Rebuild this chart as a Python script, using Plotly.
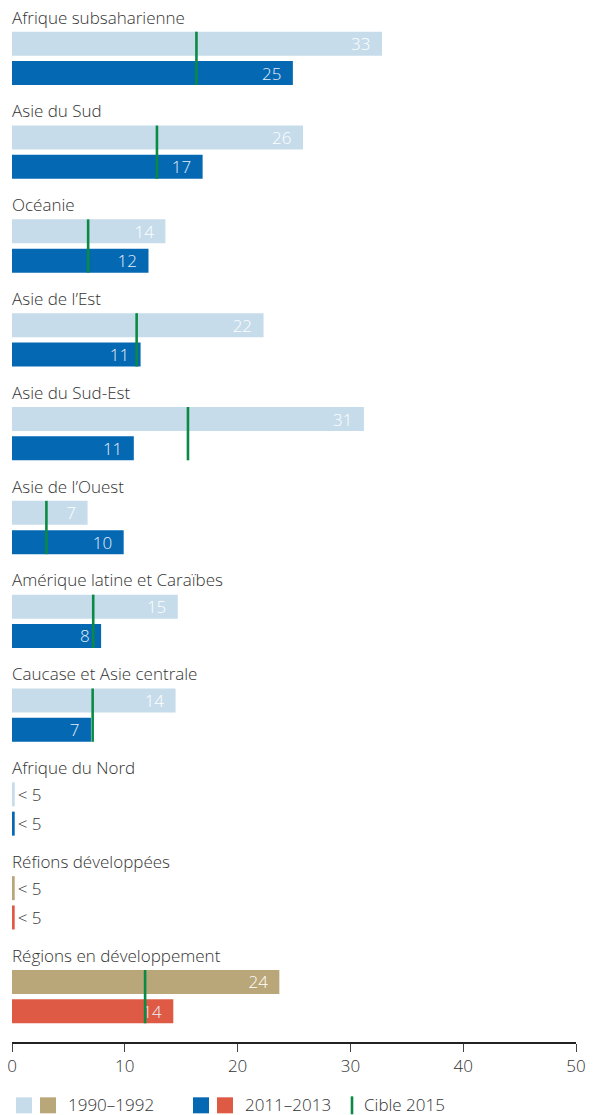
import plotly.graph_objects as go

regions = ["Afrique subsaharienne", "Asie du Sud", "Océanie", "Asie de l’Est",
           "Asie du Sud-Est", "Asie de l’Ouest", "Amérique latine et Caraïbes",
           "Caucase et Asie centrale", "Afrique du Nord", "Réfions développées",
           "Régions en développement"]
v1990 = [32.8, 25.8, 13.6, 22.3, 31.2, 6.7, 14.7, 14.5, 0.24, 0.24, 23.7]
v2011 = [24.9, 16.9, 12.1, 11.4, 10.8, 9.9, 7.9, 7.0, 0.24, 0.24, 14.3]
lab1990 = ["33", "26", "14", "22", "31", "7", "15", "14", "< 5", "< 5", "24"]
lab2011 = ["25", "17", "12", "11", "11", "10", "8", "7", "< 5", "< 5", "14"]
target = [16.35, 12.85, 6.75, 11.05, 15.6, 3.05, 7.2, 7.15, None, None, 11.8]
x_ticks = [0, 10, 20, 30, 40, 50]

FONT = "Open Sans"
FW = 300
FS = 17
W, H = 597, 1115
STEP = 93.8          # px per group
BAR = 24 / STEP      # bar thickness in group units
DY = 29.3 / STEP     # offset of the second bar
LAB = 26.7 / STEP    # label offset above first bar
PLOT_L, PLOT_R = 12, 576
AXIS_Y = 1041.7
TOP_PAD = 43.7

LIGHT, DARK, TAN, RED, GREEN = "#c6dcea", "#0568b3", "#b9a77a", "#df5a44", "#0b8a45"
TXT = "#333333"

n = len(regions)
y1 = list(range(n))
y2 = [i + DY for i in y1]
c1 = [TAN if i >= n - 2 else LIGHT for i in range(n)]
c2 = [RED if i >= n - 2 else DARK for i in range(n)]
pos1 = ["outside" if l.startswith("<") else "inside" for l in lab1990]
pos2 = ["outside" if l.startswith("<") else "inside" for l in lab2011]


def pad(labels):
    return [l if l.startswith("<") else l + "\u2002" for l in labels]


fig = go.Figure()
for xs, ys, cols, labs, pos, incol in [(v1990, y1, c1, lab1990, pos1, "#ffffff"),
                                       (v2011, y2, c2, lab2011, pos2, "#e6eff8")]:
    fig.add_trace(go.Bar(
        x=xs, y=ys, orientation="h", width=BAR, marker=dict(color=cols, line=dict(width=0)),
        text=pad(labs), textposition=pos, insidetextanchor="end", cliponaxis=False,
        textangle=0, constraintext="none",
        insidetextfont=dict(family=FONT, size=FS, color=incol, weight=FW),
        outsidetextfont=dict(family=FONT, size=FS, color=TXT, weight=FW),
        hoverinfo="skip"))

tx, ty = [], []
for i, t in enumerate(target):
    if t is None:
        continue
    tx += [t, t, None]
    ty += [i - BAR / 2, i + DY + BAR / 2, None]
fig.add_trace(go.Scatter(x=tx, y=ty, mode="lines", line=dict(color=GREEN, width=2.6),
                         hoverinfo="skip", cliponaxis=False))

annotations = []
for i, r in enumerate(regions):
    annotations.append(dict(x=0, y=i - LAB, xref="x", yref="y", text=r, showarrow=False,
                            xanchor="left", yanchor="middle", xshift=-2,
                            font=dict(family=FONT, size=FS, color=TXT, weight=FW)))


def px(x):
    return (x - PLOT_L) / (PLOT_R - PLOT_L)


def py(y):
    return (AXIS_Y - y) / AXIS_Y


shapes = []
for x0, col in [(16, LIGHT), (40, TAN), (193, DARK), (217, RED)]:
    shapes.append(dict(type="rect", xref="paper", yref="paper", x0=px(x0), x1=px(x0 + 16),
                       y0=py(1113), y1=py(1097), fillcolor=col, line=dict(width=0)))
shapes.append(dict(type="line", xref="paper", yref="paper", x0=px(352), x1=px(352),
                   y0=py(1114), y1=py(1096), line=dict(color=GREEN, width=2.6)))
for x0, t in [(66, "1990–1992"), (243, "2011–2013"), (362, "Cible 2015")]:
    annotations.append(dict(x=px(x0), y=py(1104), xref="paper", yref="paper", text=t,
                            showarrow=False, xanchor="left", yanchor="middle",
                            font=dict(family=FONT, size=FS, color=TXT, weight=FW)))

y_top = -TOP_PAD / STEP
y_bot = (AXIS_Y - TOP_PAD) / STEP

fig.update_layout(
    width=W, height=H, margin=dict(l=PLOT_L, r=W - PLOT_R, t=0, b=H - AXIS_Y),
    plot_bgcolor="white", paper_bgcolor="white", showlegend=False, barmode="overlay",
    annotations=annotations, shapes=shapes,
    xaxis=dict(range=[0, 50], tickvals=x_ticks, showgrid=False, zeroline=False,
               showline=True, linecolor="#222222", linewidth=1.5, ticks="outside",
               ticklen=8, tickwidth=1.2, tickcolor="#444444",
               tickfont=dict(family=FONT, size=FS, color=TXT, weight=FW)),
    yaxis=dict(range=[y_bot, y_top], visible=False, showgrid=False, zeroline=False),
)

fig.write_html("out.html", config={"displayModeBar": False},
               post_script="document.body.style.margin='0';")
